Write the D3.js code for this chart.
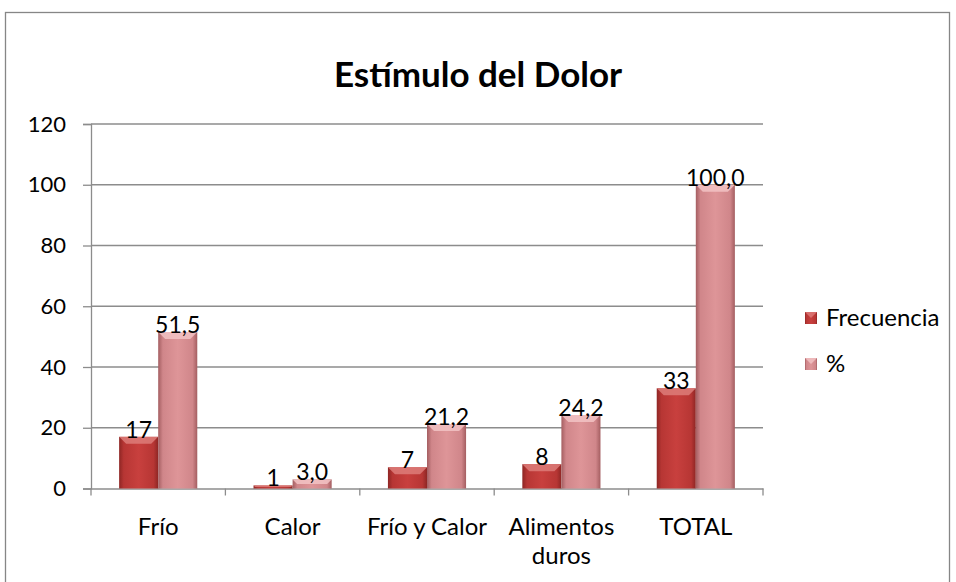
<!DOCTYPE html>
<html><head><meta charset="utf-8">
<script src="https://cdn.jsdelivr.net/npm/d3@7"></script>
<style>body{margin:0;background:#fff}svg{display:block}text{font-family:Lato,"Open Sans",sans-serif}</style>
</head><body>
<svg id="c" width="956" height="582"></svg>
<script>
const categories = ["Frío", "Calor", "Frío y Calor", "Alimentos duros", "TOTAL"];
const categoryLines = [["Frío"], ["Calor"], ["Frío y Calor"], ["Alimentos", "duros"], ["TOTAL"]];
const seriesNames = ["Frecuencia", "%"];
const frecuencia = [17, 1, 7, 8, 33];
const porcentaje = [51.5, 3.0, 21.2, 24.2, 100.0];
const yTicks = [0, 20, 40, 60, 80, 100, 120];
const title = "Estímulo del Dolor";

const svg = d3.select("#c");
const m = {left: 91, right: 763, top: 124, bottom: 488.5};

svg.append("rect").attr("x", 5.5).attr("y", 12.5).attr("width", 944).attr("height", 600)
  .attr("fill", "#fff").attr("stroke", "#868686").attr("stroke-width", 1.3);

const defs = svg.append("defs");
function grad(id, edge, mid, light) {
  const g = defs.append("linearGradient").attr("id", id).attr("x1", 0).attr("x2", 1).attr("y1", 0).attr("y2", 0);
  g.append("stop").attr("offset", "0%").attr("stop-color", edge);
  g.append("stop").attr("offset", "12%").attr("stop-color", mid);
  g.append("stop").attr("offset", "50%").attr("stop-color", light);
  g.append("stop").attr("offset", "88%").attr("stop-color", mid);
  g.append("stop").attr("offset", "100%").attr("stop-color", edge);
}
grad("g0", "#8e2624", "#b73634", "#c8403e");
grad("g1", "#a45e61", "#d0868a", "#de9598");
const colors = [{fill: "url(#g0)", bevel: "#dd7c79"},
                {fill: "url(#g1)", bevel: "#f2c3c4"}];

const y = d3.scaleLinear().domain([0, 120]).range([m.bottom, m.top]);
const x = d3.scaleBand().domain(categories).range([m.left, m.right]).paddingInner(0).paddingOuter(0);
const xs = d3.scaleBand().domain(seriesNames).range([0, x.bandwidth()]).paddingInner(0).paddingOuter(0.72);

// gridlines
svg.append("g").selectAll("line").data(yTicks.slice(1)).join("line")
  .attr("x1", m.left).attr("x2", m.right).attr("y1", d => y(d)).attr("y2", d => y(d))
  .attr("stroke", "#8c8c8c").attr("stroke-width", 1.3);

// y axis
const ya = svg.append("g").attr("transform", `translate(${m.left},0)`)
  .call(d3.axisLeft(y).tickValues(yTicks).tickSize(8).tickPadding(17));
ya.select(".domain").attr("stroke", "#8c8c8c").attr("stroke-width", 1.3);
ya.selectAll(".tick line").attr("stroke", "#8c8c8c").attr("stroke-width", 1.3);
ya.selectAll(".tick text").attr("font-size", 22).attr("fill", "#000").attr("font-family", "Lato,'Open Sans',sans-serif");

// x axis
const xa = svg.append("g").attr("transform", `translate(0,${m.bottom})`)
  .call(d3.axisBottom(x).tickSize(0).tickFormat(""));
xa.select(".domain").attr("stroke", "#8c8c8c").attr("stroke-width", 1.3);
const bounds = categories.map(c => x(c)).concat([m.right]);
svg.append("g").selectAll("line").data(bounds).join("line")
  .attr("x1", d => d).attr("x2", d => d).attr("y1", m.bottom).attr("y2", m.bottom + 7)
  .attr("stroke", "#8c8c8c").attr("stroke-width", 1.3);
categoryLines.forEach((lines, i) => {
  const cx = x(categories[i]) + x.bandwidth() / 2;
  const t = svg.append("text").attr("x", cx).attr("y", 535)
    .attr("text-anchor", "middle").attr("font-size", 24).attr("fill", "#000");
  lines.forEach((l, j) => t.append("tspan").attr("x", cx).attr("dy", j ? 29 : 0).text(l));
});

// bars
const series = [frecuencia, porcentaje];
const fmt = [d => String(d), d => d.toFixed(1).replace(".", ",")];
series.forEach((vals, s) => {
  const g = svg.append("g");
  vals.forEach((v, i) => {
    const bx = x(categories[i]) + xs(seriesNames[s]);
    const bw = xs.bandwidth();
    const by = y(v), bh = y(0) - y(v);
    g.append("rect").attr("x", bx).attr("y", by).attr("width", bw).attr("height", bh).attr("fill", colors[s].fill);
    const bev = Math.min(7, bh / 2);
    g.append("path").attr("d", `M${bx},${by}L${bx + bw},${by}L${bx + bw - bev},${by + bev}L${bx + bev},${by + bev}Z`)
      .attr("fill", colors[s].bevel).attr("opacity", 0.85);
    svg.append("text").attr("x", bx + bw / 2).attr("y", by + 1).attr("text-anchor", "middle")
      .attr("font-size", 23).attr("fill", "#000").text(fmt[s](v));
  });
});

// title
svg.append("text").attr("x", 478).attr("y", 87).attr("text-anchor", "middle")
  .attr("font-size", 35).attr("font-weight", "bold").attr("fill", "#000").text(title);

// legend
const lg = svg.append("g");
seriesNames.forEach((n, i) => {
  const ly = 318 + i * 46;
  lg.append("rect").attr("x", 805).attr("y", ly - 6).attr("width", 12).attr("height", 12).attr("fill", colors[i].fill);
  lg.append("path").attr("d", `M805,${ly - 6}L817,${ly - 6}L811,${ly}Z`).attr("fill", colors[i].bevel).attr("opacity", 0.8);
  lg.append("text").attr("x", 826).attr("y", ly + 8).attr("font-size", 24).attr("fill", "#000").text(n);
});
</script>
</body></html>
